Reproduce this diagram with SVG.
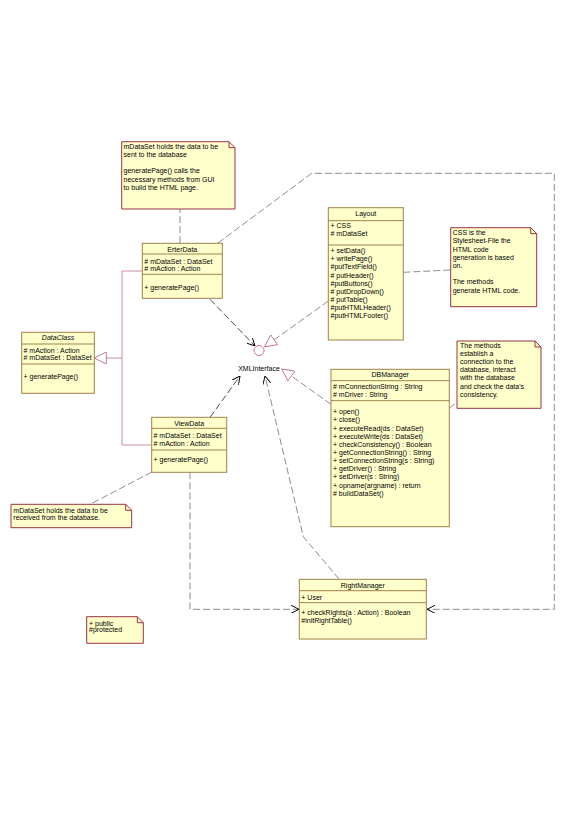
<svg xmlns="http://www.w3.org/2000/svg" width="567" height="816" viewBox="0 0 567 816">
<style>
text{font-family:"Liberation Sans",Arial,sans-serif;font-size:7px;fill:#000}
.cls{fill:#ffffcc;stroke:#a08048;stroke-width:1}
.sep{stroke:#a08048;stroke-width:1}
.note{fill:#ffffcc;stroke:#993344;stroke-width:1}
.fold{fill:none;stroke:#993344;stroke-width:1}
.dash{fill:none;stroke:#707070;stroke-width:0.8;stroke-dasharray:7,3}
.dashk{fill:none;stroke:#202020;stroke-width:0.8;stroke-dasharray:7,3}
.gen{fill:none;stroke:#c07090;stroke-width:0.8}
.t{text-anchor:middle}
</style>
<defs>
<marker id="open" viewBox="0 0 10 10" refX="10" refY="5" markerWidth="8" markerHeight="8" markerUnits="userSpaceOnUse" orient="auto">
<path d="M0,0 L10,5 L0,10" fill="none" stroke="#000" stroke-width="1.2"/>
</marker>
<marker id="tri" viewBox="0 0 12 12" refX="12" refY="6" markerWidth="13" markerHeight="12" markerUnits="userSpaceOnUse" orient="auto">
<path d="M0,0 L12,6 L0,12 Z" fill="#fff" stroke="#c07090" stroke-width="0.9"/>
</marker>
</defs>
<rect width="567" height="816" fill="#fff"/>

<g id="connectors">
<path class="dash" d="M180,243 V209"/>
<path class="dash" d="M218,243 L311.7,173.3 H554.3 V609.3 H427" marker-end="url(#open)"/>
<path class="dashk" d="M210,299.3 L255,346" marker-end="url(#open)"/>
<path class="dash" d="M328.3,301 L264.5,346.8" marker-end="url(#tri)"/>
<path class="dash" d="M403.3,272.3 L450.7,270"/>
<path class="dash" d="M331,404.3 L281.7,369" marker-end="url(#tri)"/>
<path class="dash" d="M449.3,408.3 L457,402"/>
<path class="dashk" d="M210,417.3 L240,376" marker-end="url(#open)"/>
<path class="dash" d="M339.3,579.3 L303.3,536.7 L265,376" marker-end="url(#open)"/>
<path class="dash" d="M190,472.3 V609.3 H299" marker-end="url(#open)"/>
<path class="dash" d="M152,472 L90,504.3"/>
<path class="gen" d="M142.3,271 H122 V445 H151.7 M122,358 H94.3" marker-end="url(#tri)"/>
</g>

<g id="XMLInterface">
<circle cx="259" cy="350.5" r="5" fill="#fff" stroke="#cc6688" stroke-width="0.9"/>
<text x="259" y="370.5" class="t">XMLInterface</text>
</g>

<g id="noteTop">
<path class="note" d="M121.7,141.7 H229 L235,147.7 V209 H121.7 Z"/>
<path class="fold" d="M229,141.7 V147.7 H235"/>
<text x="123.5" y="148.5">mDataSet holds the data to be</text>
<text x="123.5" y="157">sent to the database</text>
<text x="123.5" y="173.3">generatePage() calls the</text>
<text x="123.5" y="181.8">necessary methods from GUI</text>
<text x="123.5" y="190.3">to build the HTML page.</text>
</g>

<g id="ErterData">
<rect class="cls" x="142.3" y="243.3" width="80" height="55"/>
<path class="sep" d="M142.3,254 H222.3 M142.3,274.3 H222.3"/>
<text x="182.3" y="251.5" class="t">ErterData</text>
<text x="144.3" y="263.5"># mDataSet : DataSet</text>
<text x="144.3" y="271.2"># mAction : Action</text>
<text x="144.3" y="289.5">+ generatePage()</text>
</g>

<g id="DataClass">
<rect class="cls" x="21.7" y="332.3" width="72.6" height="61"/>
<path class="sep" d="M21.7,344 H94.3 M21.7,364 H94.3"/>
<text x="58" y="340.2" class="t" font-style="italic">DataClass</text>
<text x="23.5" y="352.5"># mAction : Action</text>
<text x="23.5" y="360.2"># mDataSet : DataSet</text>
<text x="23.5" y="379.2">+ generatePage()</text>
</g>

<g id="ViewData">
<rect class="cls" x="151.7" y="417.3" width="75" height="55"/>
<path class="sep" d="M151.7,428.3 H226.7 M151.7,450 H226.7"/>
<text x="189.2" y="425.8" class="t">ViewData</text>
<text x="153.5" y="437.8"># mDataSet : DataSet</text>
<text x="153.5" y="445.8"># mAction : Action</text>
<text x="153.5" y="461.8">+ generatePage()</text>
</g>

<g id="Layout">
<rect class="cls" x="328.3" y="207.7" width="75" height="132.3"/>
<path class="sep" d="M328.3,220.7 H403.3 M328.3,245 H403.3"/>
<text x="365.8" y="215.8" class="t">Layout</text>
<text x="330.5" y="227.5">+ CSS</text>
<text x="330.5" y="235.8"># mDataSet</text>
<text x="330.5" y="253.2">+ setData()</text>
<text x="330.5" y="261.3">+ writePage()</text>
<text x="330.5" y="269.4">#putTextField()</text>
<text x="330.5" y="277.5"># putHeader()</text>
<text x="330.5" y="285.6">#putButtons()</text>
<text x="330.5" y="293.7"># putDropDown()</text>
<text x="330.5" y="301.8"># putTable()</text>
<text x="330.5" y="309.9">#putHTMLHeader()</text>
<text x="330.5" y="318">#putHTMLFooter()</text>
</g>

<g id="noteCSS">
<path class="note" d="M450.7,227.7 H530.7 L536.7,233.7 V306.7 H450.7 Z"/>
<path class="fold" d="M530.7,227.7 V233.7 H536.7"/>
<text x="452.7" y="234.8">CSS is the</text>
<text x="452.7" y="243">Stylesheet-File the</text>
<text x="452.7" y="251.5">HTML code</text>
<text x="452.7" y="260">generation is based</text>
<text x="452.7" y="268.3">on.</text>
<text x="452.7" y="283.8">The methods</text>
<text x="452.7" y="292.5">generate HTML code.</text>
</g>

<g id="DBManager">
<rect class="cls" x="331" y="369.3" width="118.3" height="157.4"/>
<path class="sep" d="M331,380.7 H449.3 M331,400.7 H449.3"/>
<text x="390.2" y="376.8" class="t">DBManager</text>
<text x="333" y="389.2"># mConnectionString : String</text>
<text x="333" y="396.8"># mDriver : String</text>
<text x="333" y="414.2">+ open()</text>
<text x="333" y="422.3">+ close()</text>
<text x="333" y="430.5">+ executeRead(ds : DataSet)</text>
<text x="333" y="438.6">+ executeWrite(ds : DataSet)</text>
<text x="333" y="446.8">+ checkConsistency() : Boolean</text>
<text x="333" y="454.9">+ getConnectionString() : String</text>
<text x="333" y="463.1">+ setConnectionString(s : String)</text>
<text x="333" y="471.2">+ getDriver() : String</text>
<text x="333" y="479.4">+ setDriver(s : String)</text>
<text x="333" y="487.8">+ opname(argname) : return</text>
<text x="333" y="495.8"># buildDataSet()</text>
</g>

<g id="noteDB">
<path class="note" d="M457,341 H535 L541,347 V408.3 H457 Z"/>
<path class="fold" d="M535,341 V347 H541"/>
<text x="460" y="347.8">The methods</text>
<text x="460" y="356">establish a</text>
<text x="460" y="364">connection to the</text>
<text x="460" y="372">database, interact</text>
<text x="460" y="380">with the database</text>
<text x="460" y="388.6">and check the data's</text>
<text x="460" y="396.8">consistency.</text>
</g>

<g id="noteView">
<path class="note" d="M11,504.3 H125.7 L131.7,510.3 V527.7 H11 Z"/>
<path class="fold" d="M125.7,504.3 V510.3 H131.7"/>
<text x="13.3" y="512.5">mDataSet holds the data to be</text>
<text x="13.3" y="520.2">received from the database.</text>
</g>

<g id="RightManager">
<rect class="cls" x="299.3" y="579.3" width="127" height="59.7"/>
<path class="sep" d="M299.3,590.7 H426.3 M299.3,602.7 H426.3"/>
<text x="362.8" y="588.2" class="t">RightManager</text>
<text x="301.3" y="599.8">+ User</text>
<text x="301.3" y="615.2">+ checkRights(a : Action) : Boolean</text>
<text x="301.3" y="623">#initRightTable()</text>
</g>

<g id="noteLegend">
<path class="note" d="M86.7,616.7 H137.3 L143.3,622.7 V643.3 H86.7 Z"/>
<path class="fold" d="M137.3,616.7 V622.7 H143.3"/>
<text x="89" y="625.5">+ public</text>
<text x="89" y="632">#protected</text>
</g>
</svg>
